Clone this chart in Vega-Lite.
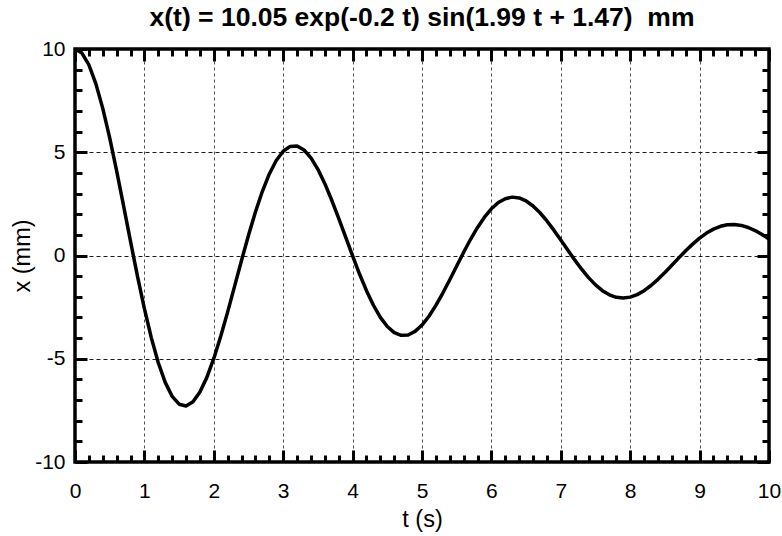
{
  "$schema": "https://vega.github.io/schema/vega-lite/v6.json",
  "width": 694,
  "height": 413,
  "autosize": "none",
  "padding": {"left": 75, "top": 49, "right": 13, "bottom": 74},
  "background": "white",
  "title": {
    "text": "x(t) = 10.05 exp(-0.2 t) sin(1.99 t + 1.47) \u00a0mm",
    "font": "Liberation Sans",
    "fontSize": 26.5,
    "fontWeight": "bold",
    "color": "black",
    "anchor": "middle",
    "baseline": "alphabetic",
    "offset": -14
  },
  "config": {
    "view": {"stroke": "black", "strokeWidth": 3.5},
    "font": "Liberation Sans"
  },
  "data": {
    "values": [
      {"t": 0.0, "x": 9.999}, {"t": 0.1, "x": 9.803}, {"t": 0.2, "x": 9.232}, {"t": 0.3, "x": 8.322},
      {"t": 0.4, "x": 7.125}, {"t": 0.5, "x": 5.696}, {"t": 0.6, "x": 4.097}, {"t": 0.7, "x": 2.403},
      {"t": 0.8, "x": 0.681}, {"t": 0.9, "x": -1.0}, {"t": 1.0, "x": -2.576}, {"t": 1.1, "x": -3.989},
      {"t": 1.2, "x": -5.192}, {"t": 1.3, "x": -6.145}, {"t": 1.4, "x": -6.821}, {"t": 1.5, "x": -7.2},
      {"t": 1.6, "x": -7.285}, {"t": 1.7, "x": -7.083}, {"t": 1.8, "x": -6.609}, {"t": 1.9, "x": -5.902},
      {"t": 2.0, "x": -4.985}, {"t": 2.1, "x": -3.913}, {"t": 2.2, "x": -2.729}, {"t": 2.3, "x": -1.485},
      {"t": 2.4, "x": -0.231}, {"t": 2.5, "x": 0.982}, {"t": 2.6, "x": 2.109}, {"t": 2.7, "x": 3.11},
      {"t": 2.8, "x": 3.95}, {"t": 2.9, "x": 4.603}, {"t": 3.0, "x": 5.05}, {"t": 3.1, "x": 5.282},
      {"t": 3.2, "x": 5.298}, {"t": 3.3, "x": 5.108}, {"t": 3.4, "x": 4.726}, {"t": 3.5, "x": 4.172},
      {"t": 3.6, "x": 3.478}, {"t": 3.7, "x": 2.675}, {"t": 3.8, "x": 1.799}, {"t": 3.9, "x": 0.887},
      {"t": 4.0, "x": -0.023}, {"t": 4.1, "x": -0.898}, {"t": 4.2, "x": -1.702}, {"t": 4.3, "x": -2.409},
      {"t": 4.4, "x": -2.995}, {"t": 4.5, "x": -3.439}, {"t": 4.6, "x": -3.733}, {"t": 4.7, "x": -3.867},
      {"t": 4.8, "x": -3.847}, {"t": 4.9, "x": -3.676}, {"t": 5.0, "x": -3.369}, {"t": 5.1, "x": -2.942},
      {"t": 5.2, "x": -2.417}, {"t": 5.3, "x": -1.818}, {"t": 5.4, "x": -1.172}, {"t": 5.5, "x": -0.505},
      {"t": 5.6, "x": 0.156}, {"t": 5.7, "x": 0.785}, {"t": 5.8, "x": 1.358}, {"t": 5.9, "x": 1.855},
      {"t": 6.0, "x": 2.261}, {"t": 6.1, "x": 2.564}, {"t": 6.2, "x": 2.752}, {"t": 6.3, "x": 2.827},
      {"t": 6.4, "x": 2.787}, {"t": 6.5, "x": 2.641}, {"t": 6.6, "x": 2.397}, {"t": 6.7, "x": 2.07},
      {"t": 6.8, "x": 1.673}, {"t": 6.9, "x": 1.228}, {"t": 7.0, "x": 0.751}, {"t": 7.1, "x": 0.264},
      {"t": 7.2, "x": -0.214}, {"t": 7.3, "x": -0.665}, {"t": 7.4, "x": -1.073}, {"t": 7.5, "x": -1.422},
      {"t": 7.6, "x": -1.702}, {"t": 7.7, "x": -1.906}, {"t": 7.8, "x": -2.026}, {"t": 7.9, "x": -2.062},
      {"t": 8.0, "x": -2.016}, {"t": 8.1, "x": -1.894}, {"t": 8.2, "x": -1.702}, {"t": 8.3, "x": -1.452},
      {"t": 8.4, "x": -1.154}, {"t": 8.5, "x": -0.823}, {"t": 8.6, "x": -0.472}, {"t": 8.7, "x": -0.117},
      {"t": 8.8, "x": 0.228}, {"t": 8.9, "x": 0.551}, {"t": 9.0, "x": 0.84}, {"t": 9.1, "x": 1.085},
      {"t": 9.2, "x": 1.278}, {"t": 9.3, "x": 1.413}, {"t": 9.4, "x": 1.488}, {"t": 9.5, "x": 1.502},
      {"t": 9.6, "x": 1.456}, {"t": 9.7, "x": 1.356}, {"t": 9.8, "x": 1.206}, {"t": 9.9, "x": 1.015},
      {"t": 10.0, "x": 0.792}
    ]
  },
  "resolve": {"axis": {"x": "independent", "y": "independent"}},
  "layer": [
    {
      "mark": {"type": "line", "color": "black", "strokeWidth": 3.5, "strokeJoin": "round", "strokeCap": "butt"},
      "encoding": {
        "x": {
          "field": "t", "type": "quantitative",
          "scale": {"domain": [0, 10], "nice": false, "zero": false},
          "axis": {
            "orient": "bottom", "title": "t (s)", "values": [0, 1, 2, 3, 4, 5, 6, 7, 8, 9, 10],
            "labelExpr": "'' + datum.value",
            "domain": false, "grid": true, "gridColor": "black", "gridDash": [3, 3], "gridWidth": 1, "gridOpacity": 0.7,
            "ticks": true, "tickSize": -12, "tickWidth": 3, "tickColor": "black",
            "labelFontSize": 21, "labelColor": "black", "labelPadding": 30, "labelFlush": false, "labelOverlap": false,
            "titleFontSize": 23.5, "titleFontWeight": "normal", "titleColor": "black", "titlePadding": 6
          }
        },
        "y": {
          "field": "x", "type": "quantitative",
          "scale": {"domain": [-10, 10], "nice": false, "zero": false},
          "axis": {
            "orient": "left", "title": "x (mm)", "values": [-10, -5, 0, 5, 10],
            "labelExpr": "'' + datum.value",
            "domain": false, "grid": true, "gridColor": "black", "gridDash": [4, 3], "gridWidth": 1, "gridOpacity": 0.9,
            "ticks": true, "tickSize": -12, "tickWidth": 3, "tickColor": "black",
            "labelFontSize": 21, "labelColor": "black", "labelPadding": 22, "labelFlush": false, "labelOverlap": false,
            "titleFontSize": 23.5, "titleFontWeight": "normal", "titleColor": "black", "titlePadding": 0
          }
        }
      }
    },
    {
      "mark": {"type": "line", "opacity": 0},
      "encoding": {
        "x": {
          "field": "t", "type": "quantitative",
          "axis": {"orient": "top", "title": null, "values": [0, 1, 2, 3, 4, 5, 6, 7, 8, 9, 10],
            "domain": false, "grid": false, "labels": false, "tickSize": -12, "tickWidth": 3, "tickColor": "black"}
        },
        "y": {
          "field": "x", "type": "quantitative",
          "axis": {"orient": "right", "title": null, "values": [-10, -5, 0, 5, 10],
            "domain": false, "grid": false, "labels": false, "tickSize": -12, "tickWidth": 3, "tickColor": "black"}
        }
      }
    },
    {
      "mark": {"type": "line", "opacity": 0},
      "encoding": {
        "x": {
          "field": "t", "type": "quantitative",
          "axis": {"orient": "bottom", "title": null,
            "values": [0.2, 0.4, 0.6, 0.8, 1.2, 1.4, 1.6, 1.8, 2.2, 2.4, 2.6, 2.8, 3.2, 3.4, 3.6, 3.8, 4.2, 4.4, 4.6, 4.8, 5.2, 5.4, 5.6, 5.8, 6.2, 6.4, 6.6, 6.8, 7.2, 7.4, 7.6, 7.8, 8.2, 8.4, 8.6, 8.8, 9.2, 9.4, 9.6, 9.8],
            "domain": false, "grid": false, "labels": false, "tickSize": -7, "tickWidth": 3, "tickColor": "black"}
        },
        "y": {
          "field": "x", "type": "quantitative",
          "axis": {"orient": "left", "title": null,
            "values": [-9, -8, -7, -6, -4, -3, -2, -1, 1, 2, 3, 4, 6, 7, 8, 9],
            "domain": false, "grid": false, "labels": false, "tickSize": -7, "tickWidth": 3, "tickColor": "black"}
        }
      }
    },
    {
      "mark": {"type": "line", "opacity": 0},
      "encoding": {
        "x": {
          "field": "t", "type": "quantitative",
          "axis": {"orient": "top", "title": null,
            "values": [0.2, 0.4, 0.6, 0.8, 1.2, 1.4, 1.6, 1.8, 2.2, 2.4, 2.6, 2.8, 3.2, 3.4, 3.6, 3.8, 4.2, 4.4, 4.6, 4.8, 5.2, 5.4, 5.6, 5.8, 6.2, 6.4, 6.6, 6.8, 7.2, 7.4, 7.6, 7.8, 8.2, 8.4, 8.6, 8.8, 9.2, 9.4, 9.6, 9.8],
            "domain": false, "grid": false, "labels": false, "tickSize": -7, "tickWidth": 3, "tickColor": "black"}
        },
        "y": {
          "field": "x", "type": "quantitative",
          "axis": {"orient": "right", "title": null,
            "values": [-9, -8, -7, -6, -4, -3, -2, -1, 1, 2, 3, 4, 6, 7, 8, 9],
            "domain": false, "grid": false, "labels": false, "tickSize": -7, "tickWidth": 3, "tickColor": "black"}
        }
      }
    }
  ]
}
